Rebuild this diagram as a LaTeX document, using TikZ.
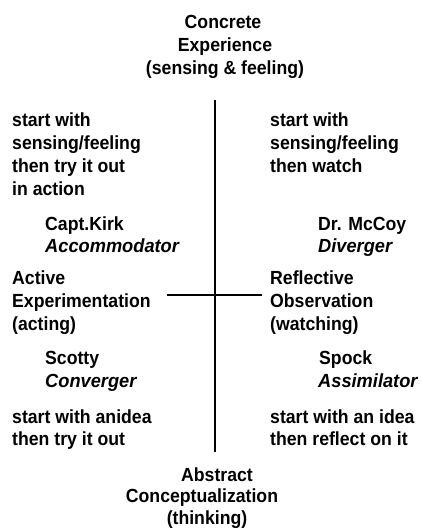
\documentclass[tikz,border=0pt]{standalone}
\usepackage{fontspec}
\setmainfont{Liberation Sans Bold}[FakeStretch=0.93,
  ItalicFont={Liberation Sans Bold Italic},
  ItalicFeatures={FakeStretch=0.96}]
\begin{document}
\begin{tikzpicture}[x=1pt,y=-1pt,
  txt/.style={inner sep=0pt, font=\fontsize{19}{23}\selectfont},
  lt/.style={txt, anchor=base west},
  ct/.style={txt, anchor=base},
  role/.style={lt, font=\fontsize{19}{23}\selectfont\itshape},
  axis/.style={line width=1.8pt},
  haxis/.style={line width=1.4pt}]
\useasboundingbox (0,0) rectangle (422,528);
% top
\node[ct] (ce1) at (223,28) {Concrete};
\node[ct] (ce2) at (225,51) {Experience};
\node[ct] (ce3) at (225,74) {(sensing \& feeling)};
% upper left
\node[lt] (ul1) at (12,126) {start with};
\node[lt] (ul2) at (12,149) {sensing/feeling};
\node[lt] (ul3) at (12,172) {then try it out};
\node[lt] (ul4) at (12,195) {in action};
% upper right
\node[lt] (ur1) at (270,126) {start with};
\node[lt] (ur2) at (270,149) {sensing/feeling};
\node[lt] (ur3) at (270,172) {then watch};
% characters
\node[lt] (kirk) at (45,230) {Capt.Kirk};
\node[role] (acc) at (45,252) {Accommodator};
\node[lt] (mccoy) at (318,230) {Dr. McCoy};
\node[role] (div) at (318,252) {Diverger};
% middle
\node[lt] (ae1) at (12,284) {Active};
\node[lt] (ae2) at (12,307) {Experimentation};
\node[lt] (ae3) at (12,330) {(acting)};
\node[lt] (ro1) at (270,284) {Reflective};
\node[lt] (ro2) at (270,307) {Observation};
\node[lt] (ro3) at (270,330) {(watching)};
% lower characters
\node[lt] (scotty) at (45,364) {Scotty};
\node[role] (conv) at (45,387) {Converger};
\node[lt] (spock) at (319,364) {Spock};
\node[role] (assim) at (318,387) {Assimilator};
% lower texts
\node[lt] (ll1) at (12,423) {start with anidea};
\node[lt] (ll2) at (12,445) {then try it out};
\node[lt] (lr1) at (270,423) {start with an idea};
\node[lt] (lr2) at (270,445) {then reflect on it};
% bottom
\node[ct] (ac1) at (217,481) {Abstract};
\node[ct] (ac2) at (202,502) {Conceptualization};
\node[ct] (ac3) at (207,524) {(thinking)};
% axes
\coordinate (vt) at (215,100);
\coordinate (vb) at (215,452);
\coordinate (hl) at (167,295);
\coordinate (hr) at (262,295);
\draw[axis] (vt) -- (vb);
\draw[haxis] (hl) -- (hr);
\end{tikzpicture}
\end{document}
